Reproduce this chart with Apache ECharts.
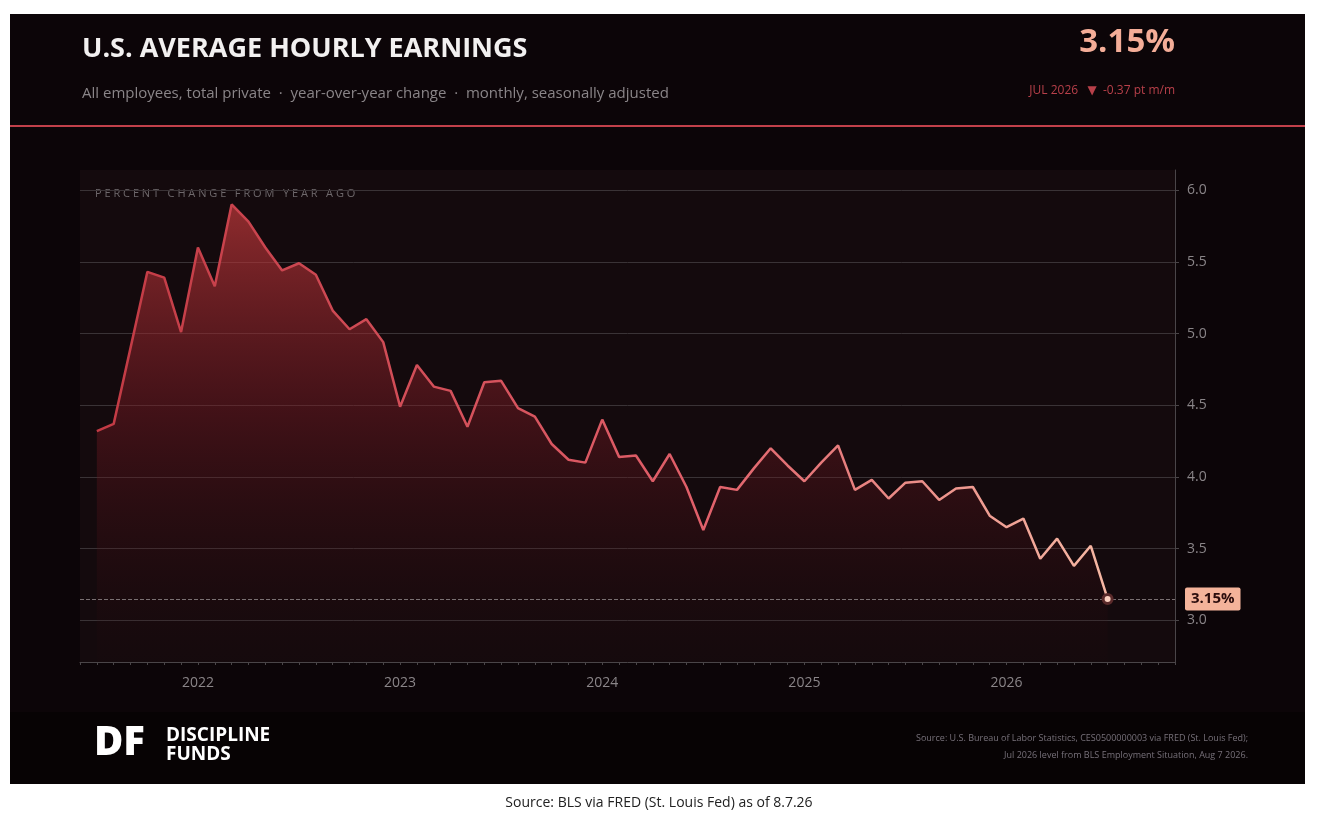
<!DOCTYPE html>
<html lang="en">
<head>
<meta charset="UTF-8">
<title>U.S. Average Hourly Earnings</title>
<script src="https://cdn.jsdelivr.net/npm/echarts@6/dist/echarts.min.js"></script>
<style>
  html, body { margin: 0; padding: 0; background: #fff; }
  #main { width: 1318px; height: 822px; }
</style>
</head>
<body>
<div id="main"></div>
<script>
// monthly, Jul 2021 .. Jul 2026 (YoY % change)
var startMonth = '2021-07';
var earnings = [
  4.32, 4.37, 4.90, 5.43, 5.39, 5.01,
  5.60, 5.33, 5.90, 5.78, 5.60, 5.44, 5.49, 5.41, 5.16, 5.03, 5.10, 4.94,
  4.49, 4.78, 4.63, 4.60, 4.35, 4.66, 4.67, 4.48, 4.42, 4.23, 4.12, 4.10,
  4.40, 4.14, 4.15, 3.97, 4.16, 3.93, 3.63, 3.93, 3.91, 4.06, 4.20, 4.08,
  3.97, 4.10, 4.22, 3.91, 3.98, 3.85, 3.96, 3.97, 3.84, 3.92, 3.93, 3.73,
  3.65, 3.71, 3.43, 3.57, 3.38, 3.52, 3.15
];
var yTicks = [3.0, 3.5, 4.0, 4.5, 5.0, 5.5, 6.0];
var latest = 3.15;

// axis months Jun 2021 .. Nov 2026
var months = [];
for (var y = 2021, m = 6; y < 2026 || (y == 2026 && m <= 11); ) {
  months.push(y + '-' + ('0' + m).slice(-2));
  m++; if (m > 12) { m = 1; y++; }
}
var values = months.map(function (mo) {
  var k = months.indexOf(mo) - months.indexOf(startMonth);
  return (k >= 0 && k < earnings.length) ? earnings[k] : null;
});
var lastIdx = months.indexOf(startMonth) + earnings.length - 1;

var myChart = echarts.init(document.getElementById('main'));
var font = '"Open Sans", "DejaVu Sans", sans-serif';

option = {
  backgroundColor: '#ffffff',
  animation: false,
  grid: { left: 80, right: 143, top: 170, bottom: 160, show: true, backgroundColor: '#140a0d', borderWidth: 0 },
  graphic: [
    { type: 'rect', shape: { x: 10, y: 14, width: 1295, height: 770 }, style: { fill: '#0c0508' }, z: -10 },
    { type: 'rect', shape: { x: 10, y: 712, width: 1295, height: 72 }, style: { fill: '#070304' }, z: -9 },
    { type: 'rect', shape: { x: 10, y: 125, width: 1295, height: 2 }, style: { fill: '#c2404a' } },
    { type: 'text', left: 82, top: 36, style: { text: 'U.S. AVERAGE HOURLY EARNINGS', fill: '#f2f0f0', font: 'bold 27px ' + font } },
    { type: 'text', left: 82, top: 86, style: { text: 'All employees, total private  ·  year-over-year change  ·  monthly, seasonally adjusted', fill: '#8a8588', font: '15px ' + font } },
    { type: 'text', right: 143, top: 26, style: { text: '3.15%', fill: '#f4ad98', font: 'bold 33px ' + font } },
    { type: 'text', right: 143, top: 85, style: { text: 'JUL 2026   ▼  -0.37 pt m/m', fill: '#b8404a', font: '12px ' + font } },
    { type: 'text', left: 95, top: 188, style: { text: 'P E R C E N T   C H A N G E   F R O M   Y E A R   A G O', fill: '#6e686b', font: '11px ' + font } },
    { type: 'text', left: 94, top: 724, style: { text: 'DF', fill: '#ffffff', font: '900 40px ' + font } },
    { type: 'text', left: 166, top: 726, style: { text: 'DISCIPLINE', fill: '#ffffff', font: 'bold 19px ' + font } },
    { type: 'text', left: 166, top: 745, style: { text: 'FUNDS', fill: '#ffffff', font: 'bold 19px ' + font } },
    { type: 'text', right: 70, top: 734, style: { text: 'Source: U.S. Bureau of Labor Statistics, CES0500000003 via FRED (St. Louis Fed);', fill: '#77717a', font: '9px ' + font } },
    { type: 'text', right: 70, top: 751, style: { text: 'Jul 2026 level from BLS Employment Situation, Aug 7 2026.', fill: '#77717a', font: '9px ' + font } },
    { type: 'text', left: 'center', top: 796, style: { text: 'Source: BLS via FRED (St. Louis Fed) as of 8.7.26', fill: '#222222', font: '14px "Open Sans", sans-serif' } }
  ],
  xAxis: {
    type: 'category',
    data: months,
    boundaryGap: false,
    axisLine: { lineStyle: { color: '#4a4548' } },
    axisTick: { interval: 0, length: 3, lineStyle: { color: '#4a4548' } },
    axisLabel: {
      interval: function (i, v) { return v.slice(5) === '01'; },
      formatter: function (v) { return v.slice(0, 4); },
      color: '#8a8588', fontSize: 14, margin: 14, fontFamily: font
    },
    splitLine: { show: false }
  },
  yAxis: {
    type: 'value',
    position: 'right',
    min: 2.71, max: 6.14,
    axisLine: { show: true, lineStyle: { color: '#4a4548' } },
    axisTick: { show: true, customValues: yTicks, length: 4, lineStyle: { color: '#4a4548' } },
    axisLabel: { customValues: yTicks, formatter: function (v) { return v.toFixed(1); }, color: '#8a8588', fontSize: 14, margin: 12, fontFamily: font },
    splitLine: { show: true, lineStyle: { color: '#3a3336', width: 1 } }
  },
  series: [{
    type: 'line',
    data: values,
    showSymbol: false,
    connectNulls: false,
    lineStyle: {
      width: 2.5,
      color: new echarts.graphic.LinearGradient(0, 0, 1, 0, [
        { offset: 0, color: '#c23a44' }, { offset: 0.6, color: '#e0606a' }, { offset: 1, color: '#f6b8a4' }
      ])
    },
    areaStyle: {
      color: new echarts.graphic.LinearGradient(0, 0, 0, 1, [
        { offset: 0, color: 'rgba(205,60,62,0.95)' },
        { offset: 0.45, color: 'rgba(130,28,38,0.6)' },
        { offset: 1, color: 'rgba(40,8,12,0.1)' }
      ])
    },
    markPoint: {
      symbol: 'circle', symbolSize: 9,
      itemStyle: { color: '#fbd0c0', borderColor: '#5a2a2a', borderWidth: 3 },
      label: { show: false },
      data: [{ coord: [lastIdx, latest] }]
    },
    markLine: {
      symbol: 'none', silent: true,
      lineStyle: { type: 'dashed', color: '#7a7072', width: 1 },
      label: {
        show: true, position: 'end', formatter: '3.15%', distance: 10,
        color: '#2a0c0c', backgroundColor: '#f4b39a', padding: [4, 6], borderRadius: 2,
        fontWeight: 'bold', fontSize: 15, fontFamily: font
      },
      data: [{ yAxis: latest }]
    }
  }]
};
myChart.setOption(option);
</script>
</body>
</html>
